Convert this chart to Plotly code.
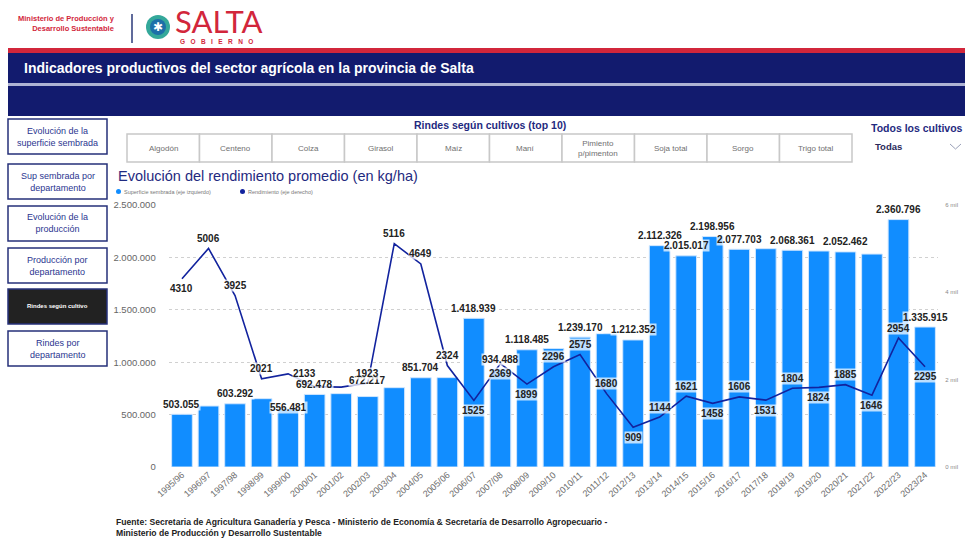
import plotly.graph_objects as go

# ---------------- data ----------------
campanas = ["1995/96", "1996/97", "1997/98", "1998/99", "1999/00", "2000/01", "2001/02",
            "2002/03", "2003/04", "2004/05", "2005/06", "2006/07", "2007/08", "2008/09",
            "2009/10", "2010/11", "2011/12", "2012/13", "2013/14", "2014/15", "2015/16",
            "2016/17", "2017/18", "2018/19", "2019/20", "2020/21", "2021/22", "2022/23",
            "2023/24"]

superficie = [503055, 582000, 603292, 652000, 556481, 692478, 700000, 672217, 757000,
              851704, 853000, 1418939, 934488, 1118485, 1130000, 1239170, 1272000,
              1212352, 2112326, 2015017, 2198956, 2077703, 2083000, 2068361, 2061000,
              2052462, 2032000, 2360796, 1335915]

rendimiento = [4310, 5006, 3925, 2021, 2133, 1840, 1830, 1923, 5116, 4649, 2324, 1525,
               2369, 1899, 2296, 2575, 1680, 909, 1144, 1621, 1458, 1606, 1531, 1804,
               1824, 1885, 1646, 2954, 2295]

# which bar values show a data label
bar_label_shown = ["1995/96", "1997/98", "1999/00", "2000/01", "2002/03", "2004/05",
                   "2006/07", "2007/08", "2008/09", "2010/11", "2012/13", "2013/14",
                   "2014/15", "2015/16", "2016/17", "2018/19", "2020/21", "2022/23",
                   "2023/24"]

# line label placement: "a" above, "b" below, "r" right, "" hidden
line_label_pos = ["b", "a", "a", "a", "r", "", "", "a", "a", "a", "a", "b", "b", "b",
                  "a", "a", "a", "b", "a", "a", "b", "a", "b", "a", "b", "a", "b", "a", "b"]

left_ticks = [0, 500000, 1000000, 1500000, 2000000, 2500000]
right_ticks = [0, 2000, 4000, 6000]
right_tick_text = ["0 mil", "2 mil", "4 mil", "6 mil"]

nav_buttons = ["Evolución de la<br>superficie sembrada", "Sup sembrada por<br>departamento",
               "Evolución de la<br>producción", "Producción por<br>departamento",
               "Rindes según cultivo", "Rindes por<br>departamento"]
cultivos = ["Algodón", "Centeno", "Colza", "Girasol", "Maíz", "Maní",
            "Pimiento<br>p/pimenton", "Soja total", "Sorgo", "Trigo total"]

# ---------------- styling ----------------
W, H = 965, 540
BAR = "#118DFF"
LINE = "#12239E"
NAVY = "#121B6E"
RED = "#D2263B"
TXTBLUE = "#1F2A80"
FONT = "Liberation Sans, Arial, sans-serif"
NB = "\u00a0"


def px(x):
    return x / W


def py(y):
    return 1 - y / H


def thousands(v):
    return f"{v:,}".replace(",", ".")


def note(x, y, text, size, color, xa="center", ya="middle", align="center", family=FONT):
    return dict(x=px(x), y=py(y), xref="paper", yref="paper", text=text, showarrow=False,
                xanchor=xa, yanchor=ya, align=align,
                font=dict(family=family, size=size, color=color))


fig = go.Figure()

fig.add_trace(go.Bar(
    x=campanas, y=superficie, name="Superficie sembrada (eje izquierdo)",
    marker=dict(color=BAR, line=dict(color="#cfe6ff", width=1)),
    hoverinfo="x+y", yaxis="y"))

fig.add_trace(go.Scatter(
    x=campanas, y=rendimiento, name="Rendimiento (eje derecho)", mode="lines",
    line=dict(color=LINE, width=1.6), yaxis="y2", hoverinfo="x+y"))

annotations = []
shapes = []

# bar data labels
bar_yshift = {"1999/00": 1, "2002/03": 16}
for c, v in zip(campanas, superficie):
    if c in bar_label_shown:
        annotations.append(dict(
            x=c, y=v, xref="x", yref="y", text=f"<b>{thousands(v)}</b>",
            showarrow=False, yshift=bar_yshift.get(c, 10), xanchor="center",
            yanchor="middle",
            font=dict(family=FONT, size=10, color="#222"),
            bgcolor="rgba(255,255,255,0.72)", borderpad=0))

# line data labels
for c, v, pos in zip(campanas, rendimiento, line_label_pos):
    if not pos:
        continue
    ys = {"a": 10, "b": -10, "r": 0}[pos]
    xs = 16 if pos == "r" else 0
    annotations.append(dict(
        x=c, y=v, xref="x", yref="y2", text=f"<b>{v}</b>", showarrow=False,
        yshift=ys, xshift=xs, xanchor="center", yanchor="middle",
        font=dict(family=FONT, size=10, color="#222"),
        bgcolor="rgba(255,255,255,0.72)", borderpad=0))

# ---------- header ----------
annotations.append(note(117, 24, "<b>Ministerio de Producción y<br>Desarrollo Sustentable</b>",
                        7.5, RED, xa="right", align="right"))
shapes.append(dict(type="line", xref="paper", yref="paper", x0=px(132), x1=px(132),
                   y0=py(14), y1=py(43), line=dict(color="#2B3A7A", width=1.5)))
shapes.append(dict(type="circle", xref="paper", yref="paper", x0=px(146), x1=px(170),
                   y0=py(39), y1=py(15), fillcolor="#34A89A", line=dict(width=0)))
shapes.append(dict(type="circle", xref="paper", yref="paper", x0=px(150), x1=px(166),
                   y0=py(35), y1=py(19), fillcolor="#1D6FA8", line=dict(width=0)))
annotations.append(note(158, 27, "✱", 12, "white"))
annotations.append(note(173, 20.5, "SALTA", 31, RED, xa="left", family="Lato, sans-serif"))
annotations.append(note(178, 42, "<b>" + (NB * 3).join("GOBIERNO") + "</b>", 6.5, RED,
                        xa="left"))

shapes.append(dict(type="rect", xref="paper", yref="paper", x0=px(8), x1=1,
                   y0=py(53), y1=py(48), fillcolor=RED, line=dict(width=0), layer="below"))
shapes.append(dict(type="rect", xref="paper", yref="paper", x0=px(8), x1=1,
                   y0=py(83), y1=py(53), fillcolor=NAVY, line=dict(width=0), layer="below"))
shapes.append(dict(type="rect", xref="paper", yref="paper", x0=px(8), x1=1,
                   y0=py(86), y1=py(83), fillcolor="#AEB3D3", line=dict(width=0), layer="below"))
shapes.append(dict(type="rect", xref="paper", yref="paper", x0=px(8), x1=1,
                   y0=py(116), y1=py(86), fillcolor=NAVY, line=dict(width=0), layer="below"))
annotations.append(note(22, 68,
                        "<b>Indicadores productivos del sector agrícola en la provincia de Salta</b>",
                        14, "white", xa="left"))

# ---------- left navigation ----------
nav_tops = [119, 164, 206, 248, 289, 331]
for label, top in zip(nav_buttons, nav_tops):
    dark = label == "Rindes según cultivo"
    shapes.append(dict(type="rect", xref="paper", yref="paper", x0=px(8), x1=px(107),
                       y0=py(top + 35), y1=py(top), fillcolor="#222222" if dark else "white",
                       line=dict(color="#26307A", width=1.5)))
    annotations.append(note(57.5, top + 17.5, f"<b>{label}</b>" if dark else label,
                            6 if dark else 9, "white" if dark else "#2B3590"))

# ---------- crop selector ----------
annotations.append(note(490, 125, "<b>Rindes según cultivos (top 10)</b>", 10.5, TXTBLUE))
bx0, bw = 127, 72.5
for i, c in enumerate(cultivos):
    x0 = bx0 + i * bw
    shapes.append(dict(type="rect", xref="paper", yref="paper", x0=px(x0), x1=px(x0 + bw),
                       y0=py(162), y1=py(134), fillcolor="white",
                       line=dict(color="#C8C8C8", width=1.5)))
    annotations.append(note(x0 + bw / 2, 148, c, 8, "#707070"))

annotations.append(note(869, 128, "<b>Todos los cultivos</b>", 10.5, TXTBLUE, xa="left"))
annotations.append(note(873, 147, "<b>Todas</b>", 9.5, "#2A2A5A", xa="left"))
shapes.append(dict(type="path", xref="paper", yref="paper",
                   path=f"M {px(950)} {py(144)} L {px(955.5)} {py(149)} L {px(961)} {py(144)}",
                   line=dict(color="#9AA0B8", width=1)))

# ---------- chart title & legend ----------
annotations.append(note(116, 176, "Evolución del rendimiento promedio (en kg/ha)",
                        14.5, TXTBLUE, xa="left"))
shapes.append(dict(type="circle", xref="paper", yref="paper", x0=px(116), x1=px(121),
                   y0=py(194), y1=py(189), fillcolor=BAR, line=dict(width=0)))
annotations.append(note(122, 191.5, "Superficie sembrada (eje izquierdo)", 5.5, "#777",
                        xa="left"))
shapes.append(dict(type="circle", xref="paper", yref="paper", x0=px(240), x1=px(245),
                   y0=py(194), y1=py(189), fillcolor=LINE, line=dict(width=0)))
annotations.append(note(246, 191.5, "Rendimiento (eje derecho)", 5.5, "#777", xa="left"))

# ---------- footer ----------
annotations.append(note(114, 527,
                        "<b>Fuente: Secretaria de Agricultura Ganadería y Pesca - Ministerio de Economía &amp; Secretaría de Desarrollo Agropecuario -<br>Ministerio de Producción y Desarrollo Sustentable</b>",
                        8.6, "#222", xa="left", align="left"))

fig.update_layout(
    width=W, height=H, autosize=False,
    margin=dict(l=0, r=0, t=0, b=0, autoexpand=False),
    paper_bgcolor="white", plot_bgcolor="white",
    separators=",.",
    showlegend=False,
    bargap=0.22,
    xaxis=dict(domain=[px(168.7), px(938.3)], type="category", tickangle=-42,
               range=[-0.5, len(campanas) - 0.5], automargin=False,
               tickfont=dict(family=FONT, size=9, color="#6E6E6E"), showgrid=False,
               showline=False, ticks=""),
    yaxis=dict(range=[0, 2500000], tickvals=left_ticks, tickformat=",d",
               domain=[py(467), py(205)], ticklabelstandoff=12, automargin=False,
               tickfont=dict(family=FONT, size=9.5, color="#666"), showgrid=True,
               gridcolor="#D0D0D0", griddash="dot", gridwidth=1, zeroline=False,
               ticks="", ticklen=0),
    yaxis2=dict(range=[0, 6000], tickvals=right_ticks, ticktext=right_tick_text,
                overlaying="y", side="right", showgrid=False, zeroline=False,
                ticklabelstandoff=6, automargin=False,
                tickfont=dict(family=FONT, size=6, color="#888")),
    annotations=annotations,
    shapes=shapes,
)

fig.write_html("out.html", config={"displayModeBar": False},
               post_script="document.body.style.margin='0';document.body.style.padding='0';")
